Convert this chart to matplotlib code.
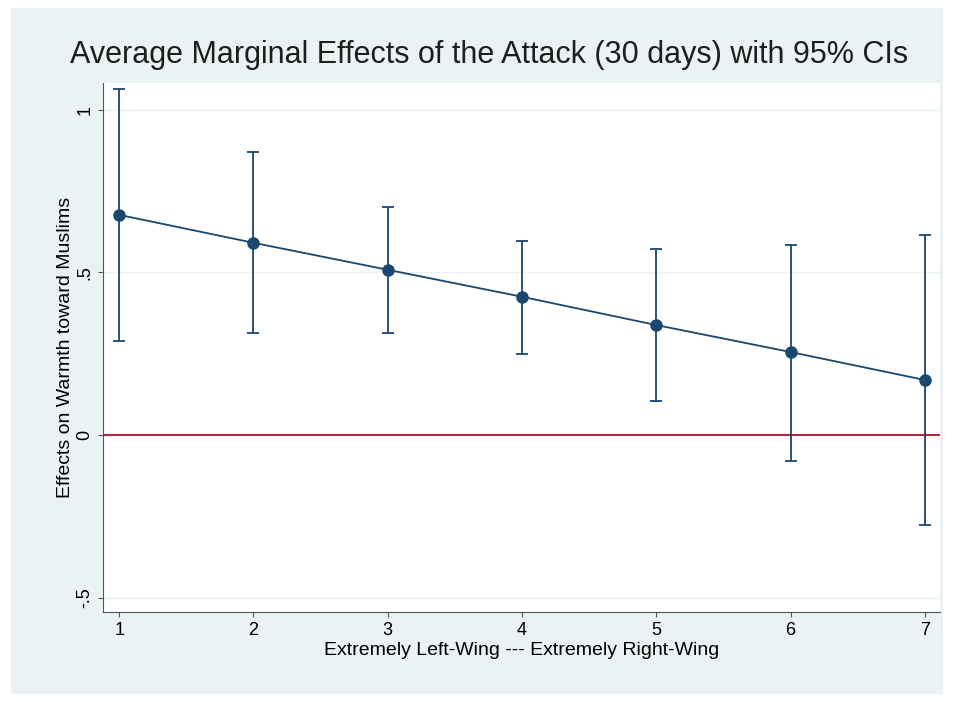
import matplotlib
matplotlib.use("Agg")
import matplotlib.pyplot as plt
plt.rcParams['font.family'] = ['Liberation Sans', 'DejaVu Sans']

x = [1, 2, 3, 4, 5, 6, 7]
est = [0.677, 0.591, 0.508, 0.425, 0.338, 0.255, 0.169]
hi = [1.065, 0.871, 0.702, 0.597, 0.572, 0.585, 0.615]
lo = [0.289, 0.314, 0.314, 0.249, 0.105, -0.080, -0.277]
yticks = [-0.5, 0, 0.5, 1]
ylabels = ["-.5", "0", ".5", "1"]

navy = "#1a476f"
fig = plt.figure(figsize=(9.54, 7.02), dpi=100)
fig.patch.set_facecolor("white")
bg = plt.Rectangle((0.012, 0.012), 0.976, 0.976, transform=fig.transFigure,
                   facecolor="#eaf2f3", edgecolor="none", zorder=-1)
fig.patches.append(bg)
ax = fig.add_axes([0.108, 0.128, 0.877, 0.754])
ax.set_facecolor("white")
for y in yticks:
    ax.axhline(y, color="#eaf2f3", lw=1, zorder=0)
ax.axhline(0, color="#b0283c", lw=1.5, zorder=1)
ax.vlines(x, lo, hi, color=navy, lw=1.3, zorder=2)
ax.hlines(lo + hi, [v - 0.045 for v in x] * 2, [v + 0.045 for v in x] * 2, color=navy, lw=1.3, zorder=2)
ax.plot(x, est, color=navy, lw=1.3, marker="o", ms=8, zorder=3)
ax.set_xlim(0.88, 7.11)
ax.set_ylim(-0.545, 1.083)
ax.set_xticks(x)
ax.set_yticks(yticks)
ax.set_yticklabels(ylabels, rotation=90, va="center")
ax.tick_params(labelsize=13, color="#555555")
for s in ["top", "right"]:
    ax.spines[s].set_visible(False)
for s in ["left", "bottom"]:
    ax.spines[s].set_color("#555555")
ax.set_xlabel("Extremely Left-Wing --- Extremely Right-Wing", fontsize=14, labelpad=2)
ax.set_ylabel("Effects on Warmth toward Muslims", fontsize=14, labelpad=2)
fig.text(0.513, 0.922, "Average Marginal Effects of the Attack (30 days) with 95% CIs",
         ha="center", va="center", fontsize=22, color="#1e1e1e")
fig.savefig("out.png", dpi=100, facecolor=fig.get_facecolor())
